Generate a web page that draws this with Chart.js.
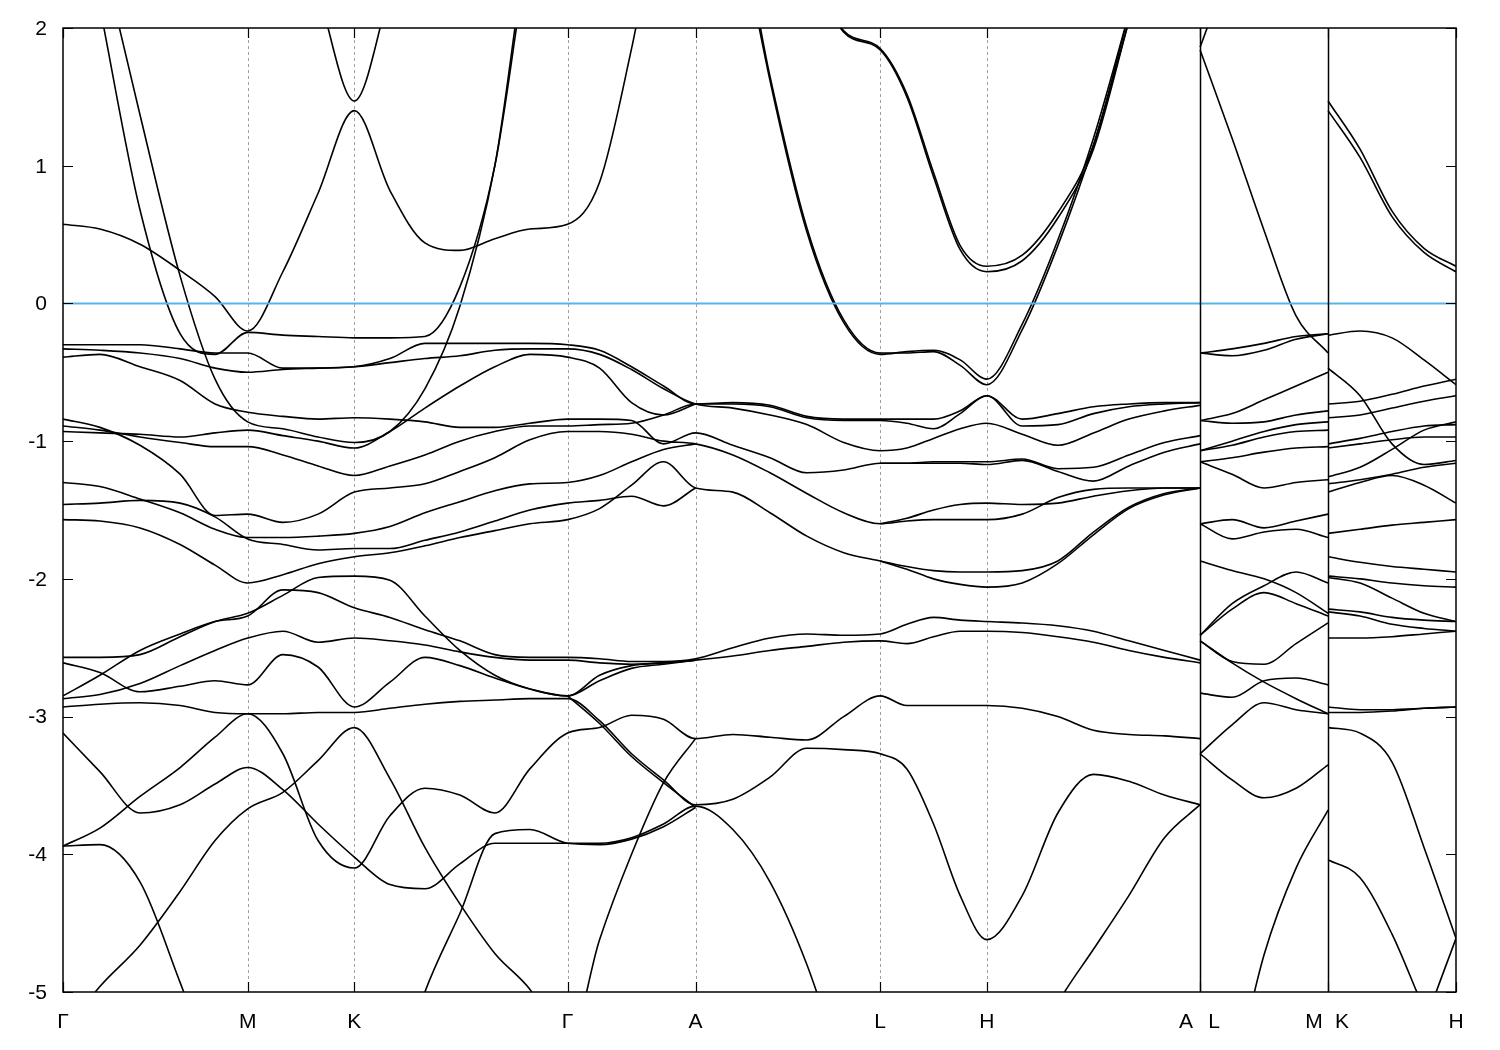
<!DOCTYPE html>
<html>
<head>
<meta charset="utf-8">
<title>Band structure</title>
<script src="https://cdn.jsdelivr.net/npm/chart.js@4.4.1/dist/chart.umd.min.js"></script>
<style>
  body { margin: 0; background: #fff; }
  canvas { display: block; }
</style>
</head>
<body>
<canvas id="bands" width="1500" height="1050"></canvas>
<script>
/**
 * Band structure along Γ-M-K-Γ-A-L-H-A | L-M | K-H
 * k in units of |ΓK|, energies in eV (E - EF)
 */

// high-symmetry points
const tickPos = [0, 0.866, 1.366, 2.366, 2.966, 3.832, 4.332, 5.332, 5.932, 6.532];
const tickLabels = ['Γ', 'M', 'K', 'Γ', 'A', 'L', 'H', ['A', 'L'], ['M', 'K'], 'H'];
const yTicks = [2, 1, 0, -1, -2, -3, -4, -5];

// k samples of the three path pieces
const kMain = [0, 0.173, 0.361, 0.549, 0.713, 0.866, 1.031, 1.196, 1.366, 1.533, 1.697, 1.861, 2.025, 2.189, 2.366,
    2.516, 2.666, 2.816, 2.966, 3.141, 3.315, 3.488, 3.661, 3.832, 3.957, 4.082, 4.207, 4.332,
    4.498, 4.665, 4.832, 4.998, 5.165, 5.332];
const kLM = [5.332, 5.482, 5.632, 5.782, 5.932];
const kKH = [5.932, 6.082, 6.232, 6.382, 6.532];

// --- Γ-M-K-Γ-A-L-H-A bands
const L1 = [0.575, 0.54, 0.43, 0.24, 0.05, -0.20, 0.23, 0.80, 1.40, 0.82, 0.44, 0.385, 0.47, 0.54, 0.575, 0.88, 1.85, 3.0, 3.5, 3.0, 1.65, 0.55, -0.12, -0.36, -0.36, -0.35, -0.45, -0.59, -0.19, 0.42, 1.15, 2.05, 3.0, 3.6];
const L1b = [3.0, 1.62, 0.52, -0.14, -0.37, -0.35, -0.34, -0.41, -0.55, -0.15, 0.46, 1.2, 2.1, 3.0, 3.6];
const L2a = [2.5, 1.98, 1.85, 1.52, 0.95, 0.42, 0.27, 0.35, 0.66, 1.15, 2.1, 3.0, 3.6];
const L2b = [2.5, 1.97, 1.84, 1.50, 0.92, 0.39, 0.23, 0.31, 0.62, 1.12, 2.05, 3.0, 3.6];
const KV = [3.0, 2.26, 1.47, 2.26, 3.0];
const S1 = [3.5, 2.15, 0.68, -0.22, -0.37, -0.21, -0.23, -0.24, -0.25, -0.25, -0.24, 0.12, 1.0, 2.6, 3.6];
const S2 = [3.7, 2.6, 1.37, 0.2, -0.55, -0.86, -0.91, -0.97, -1.01, -0.93, -0.62, -0.02, 1.0, 2.7, 3.6];
const G1 = [-0.30, -0.30, -0.30, -0.33, -0.36, -0.36, -0.47, -0.47, -0.46, -0.40, -0.29, -0.29, -0.29, -0.29, -0.30, -0.34, -0.46, -0.60, -0.73, -0.72, -0.74, -0.82, -0.84, -0.84, -0.84, -0.84, -0.78, -0.67, -0.84, -0.80, -0.75, -0.73, -0.72, -0.72];
const G2 = [-0.33, -0.34, -0.36, -0.40, -0.47, -0.50, -0.48, -0.47, -0.46, -0.43, -0.40, -0.38, -0.34, -0.33, -0.33, -0.37, -0.48, -0.62, -0.73, -0.76, -0.81, -0.88, -1.01, -1.07, -1.05, -0.98, -0.91, -0.87, -0.95, -1.03, -0.94, -0.84, -0.78, -0.74];
const G3 = [-0.39, -0.37, -0.46, -0.56, -0.73, -0.79, -0.82, -0.84, -0.83, -0.84, -0.86, -0.90, -0.90, -0.87, -0.84, -0.84, -0.85, -1.02, -0.94, -1.03, -1.12, -1.23, -1.21, -1.16, -1.16, -1.15, -1.15, -1.15, -1.13, -1.20, -1.19, -1.10, -1.01, -0.96];
const G8 = [-0.93, -0.94, -0.95, -0.97, -0.94, -0.92, -0.96, -1.00, -1.05, -0.93, -0.76, -0.60, -0.46, -0.37, -0.39, -0.47, -0.72, -0.81, -0.73];
const G12 = [-0.89, -0.92, -0.97, -1.01, -1.04, -1.04, -1.10, -1.18, -1.25, -1.18, -1.10, -1.00, -0.93, -0.89, -0.89, -0.88, -0.87, -0.81, -0.73, -0.73, -0.75, -0.83, -0.85, -0.85, -0.87, -0.91, -0.80, -0.67, -0.89, -0.88, -0.80, -0.75, -0.73, -0.72];
const G10 = [-0.84, -0.90, -1.03, -1.24, -1.54, -1.53, -1.59, -1.53, -1.37, -1.34, -1.31, -1.22, -1.12, -0.99, -0.93, -0.93, -0.95, -1.00, -1.02, -1.10, -1.23, -1.38, -1.52, -1.60, -1.58, -1.57, -1.57, -1.57, -1.53, -1.41, -1.35, -1.34, -1.34, -1.34];
const G17 = [-1.30, -1.33, -1.42, -1.52, -1.64, -1.70, -1.70, -1.69, -1.67, -1.62, -1.52, -1.44, -1.36, -1.31, -1.30, -1.25, -1.15, -1.06, -1.02];
const G18 = [-1.46, -1.45, -1.43, -1.45, -1.55, -1.71, -1.75, -1.79, -1.78, -1.78, -1.72, -1.66, -1.58, -1.50, -1.45, -1.43, -1.40, -1.47, -1.34];
const G13 = [-1.57, -1.58, -1.63, -1.75, -1.90, -2.03, -1.97, -1.89, -1.84, -1.81, -1.76, -1.70, -1.65, -1.60, -1.57, -1.49, -1.32, -1.15, -1.34, -1.37, -1.52, -1.69, -1.81, -1.87, -1.91, -1.94, -1.95, -1.95, -1.94, -1.87, -1.66, -1.48, -1.38, -1.34];
const G14 = [-1.16, -1.16, -1.16, -1.16, -1.17, -1.14, -1.22, -1.29, -1.18, -1.08, -1.02];
const G15 = [-1.60, -1.56, -1.50, -1.46, -1.45, -1.46, -1.45, -1.40, -1.36, -1.34, -1.34];
const G16 = [-1.87, -1.93, -2.00, -2.04, -2.06, -2.03, -1.89, -1.68, -1.49, -1.39, -1.34];
const G20 = [-2.57, -2.57, -2.55, -2.42, -2.31, -2.25, -2.12, -1.99, -1.98, -2.01, -2.27, -2.52, -2.70, -2.80, -2.85, -2.74, -2.65, -2.62, -2.59];
const G21 = [-2.61, -2.68, -2.82, -2.78, -2.74, -2.77, -2.55, -2.64, -2.93, -2.75, -2.57, -2.63, -2.72, -2.80, -2.85, -2.70, -2.63, -2.61, -2.59];
const G22 = [-2.85, -2.70, -2.52, -2.40, -2.31, -2.27, -2.08, -2.10, -2.21, -2.28, -2.37, -2.45, -2.55, -2.57, -2.57, -2.58, -2.60, -2.60, -2.58, -2.50, -2.43, -2.40, -2.41, -2.40, -2.33, -2.28, -2.30, -2.31, -2.32, -2.34, -2.38, -2.45, -2.52, -2.59];
const G23 = [-2.87, -2.84, -2.76, -2.63, -2.52, -2.43, -2.38, -2.46, -2.43, -2.45, -2.48, -2.53, -2.57, -2.59, -2.59, -2.61, -2.62, -2.61, -2.59, -2.56, -2.52, -2.49, -2.46, -2.45, -2.47, -2.42, -2.38, -2.38, -2.39, -2.42, -2.46, -2.52, -2.57, -2.61];
const G24 = [-2.93, -2.91, -2.90, -2.92, -2.97, -2.98, -2.98, -2.97, -2.97, -2.94, -2.91, -2.89, -2.88, -2.87, -2.87, -3.03, -3.27, -3.46, -3.64, -3.60, -3.44, -3.23, -3.24, -3.27, -3.38, -3.78, -4.30, -4.62, -4.30, -3.70, -3.42, -3.47, -3.57, -3.64];
const G24b = [-2.85, -3.05, -3.29, -3.48, -3.66];
const B1 = [-3.12, -3.40, -3.70, -3.64, -3.49, -3.37, -3.53, -3.78, -4.02, -4.22, -4.25, -4.07, -3.92, -3.92, -3.92, -3.92, -3.88, -3.78, -3.65, -3.82, -4.20, -4.80, -5.6, null, null, null, null, null, -5.6, -5.08, -4.69, -4.30, -3.88, -3.64];
const B2 = [-3.94, -3.81, -3.58, -3.37, -3.15, -2.98, -3.27, -3.90, -4.10, -3.72, -3.52, -3.57, -3.70, -3.38, -3.12, -3.08, -2.99, -3.02, -3.16, -3.13, -3.15, -3.17, -3.00, -2.85, -2.92, -2.92, -2.92, -2.92, -2.94, -3.00, -3.10, -3.13, -3.14, -3.16];
const B3 = [-5.3, -4.96, -4.66, -4.27, -3.90, -3.67, -3.55, -3.32, -3.08, -3.45, -3.95, -4.36, -4.72, -4.98, -5.4, -4.62, -4.0, -3.48, -3.16];
const B4 = [-3.94, -3.93, -4.20, -4.93, -5.6];
const B6 = [-5.8, -5.0, -4.43, -3.85, -3.82, -3.92, -3.93, -3.89, -3.80, -3.66];

// --- L-M bands
const UL1 = [1.86, 2.5, 3.2];
const UL2 = [1.84, 1.20, 0.53, -0.09, -0.36];
const P1 = [-0.36, -0.33, -0.29, -0.24, -0.22];
const P2 = [-0.36, -0.38, -0.34, -0.26, -0.22];
const P3 = [-0.85, -0.80, -0.70, -0.60, -0.50];
const P4 = [-0.85, -0.87, -0.86, -0.81, -0.78];
const P5 = [-1.07, -1.00, -0.93, -0.88, -0.86];
const P6 = [-1.07, -1.03, -0.97, -0.93, -0.92];
const P7 = [-1.15, -1.12, -1.08, -1.05, -1.04];
const P8 = [-1.15, -1.24, -1.34, -1.30, -1.28];
const P9 = [-1.60, -1.57, -1.63, -1.58, -1.53];
const P10 = [-1.60, -1.71, -1.66, -1.64, -1.70];
const P11 = [-1.87, -1.94, -2.00, -2.10, -2.25];
const P13 = [-2.41, -2.22, -2.10, -2.18, -2.27];
const P14 = [-2.41, -2.18, -2.05, -1.95, -2.03];
const P15 = [-2.45, -2.60, -2.62, -2.47, -2.32];
const P16 = [-2.45, -2.61, -2.75, -2.87, -2.98];
const P17 = [-2.83, -2.86, -2.74, -2.72, -2.77];
const P18 = [-3.27, -3.06, -2.90, -2.95, -2.98];
const P19 = [-3.27, -3.46, -3.59, -3.52, -3.35];
const P20 = [-5.7, -4.73, -4.10, -3.68];

// --- K-H bands
const UK1 = [1.47, 1.12, 0.67, 0.40, 0.27];
const UK2 = [1.40, 1.06, 0.63, 0.37, 0.23];
const Q1 = [-0.23, -0.20, -0.25, -0.41, -0.59];
const Q2 = [-0.47, -0.67, -1.02, -1.17, -1.14];
const Q3 = [-0.73, -0.71, -0.66, -0.60, -0.55];
const Q4 = [-0.83, -0.81, -0.76, -0.71, -0.67];
const Q5 = [-1.02, -0.98, -0.93, -0.89, -0.88];
const Q6 = [-1.05, -1.02, -0.99, -0.97, -0.97];
const Q7 = [-1.26, -1.19, -1.06, -0.92, -0.86];
const Q8 = [-1.31, -1.28, -1.24, -1.19, -1.16];
const Q9 = [-1.37, -1.30, -1.25, -1.32, -1.45];
const Q10 = [-1.67, -1.64, -1.61, -1.59, -1.57];
const Q11 = [-1.84, -1.88, -1.91, -1.93, -1.95];
const Q12 = [-1.99, -2.03, -2.14, -2.25, -2.31];
const Q13 = [-1.98, -2.00, -2.03, -2.05, -2.06];
const Q14 = [-2.22, -2.24, -2.28, -2.30, -2.31];
const Q15 = [-2.24, -2.27, -2.33, -2.36, -2.38];
const Q16 = [-2.43, -2.43, -2.42, -2.40, -2.38];
const Q17 = [-2.93, -2.95, -2.95, -2.94, -2.93];
const Q18 = [-2.97, -2.97, -2.96, -2.94, -2.93];
const Q19 = [-3.08, -3.12, -3.33, -3.95, -4.61];
const Q20 = [-4.04, -4.17, -4.58, -5.12, -5.6];
const Q21 = [-6.0, -5.25, -4.61];

// [values, first k index]
const mainBands = [
    [L1, 0], [L1b, 19], [L2a, 21], [L2b, 21], [KV, 6], [S1, 0], [S2, 0],
    [G1, 0], [G2, 0], [G3, 0], [G8, 0], [G12, 0], [G10, 0], [G17, 0], [G18, 0], [G13, 0],
    [G14, 23], [G15, 23], [G16, 23], [G20, 0], [G21, 0], [G22, 0], [G23, 0], [G24, 0], [G24b, 14],
    [B1, 0], [B2, 0], [B3, 0], [B4, 0], [B6, 9]
];
const lmBands = [[UL1, 0], [UL2, 0], [P1, 0], [P2, 0], [P3, 0], [P4, 0], [P5, 0], [P6, 0], [P7, 0], [P8, 0],
    [P9, 0], [P10, 0], [P11, 0], [P13, 0], [P14, 0], [P15, 0], [P16, 0], [P17, 0], [P18, 0], [P19, 0], [P20, 1]];
const khBands = [[UK1, 0], [UK2, 0], [Q1, 0], [Q2, 0], [Q3, 0], [Q4, 0], [Q5, 0], [Q6, 0], [Q7, 0], [Q8, 0],
    [Q9, 0], [Q10, 0], [Q11, 0], [Q12, 0], [Q13, 0], [Q14, 0], [Q15, 0], [Q16, 0], [Q17, 0], [Q18, 0],
    [Q19, 0], [Q20, 0], [Q21, 2]];

const FONT = '"Liberation Sans", Arial, sans-serif';

function bandDataset(kGrid, [values, start]) {
    return {
        data: values.map((e, i) => ({ x: kGrid[start + i], y: e })),
        borderColor: '#000',
        borderWidth: 1.6,
        pointRadius: 0,
        fill: false,
        cubicInterpolationMode: 'monotone',
        clip: 0
    };
}

const datasets = [
    // Fermi level (drawn last = on top)
    {
        data: [{ x: tickPos[0], y: 0 }, { x: tickPos[tickPos.length - 1], y: 0 }],
        borderColor: '#56b4e9', borderWidth: 2, pointRadius: 0, fill: false, clip: 0
    },
    ...mainBands.map(b => bandDataset(kMain, b)),
    ...lmBands.map(b => bandDataset(kLM, b)),
    ...khBands.map(b => bandDataset(kKH, b))
];

// Frame, ticks, grid and labels in gnuplot style
const framePlugin = {
    id: 'bandFrame',
    beforeDatasetsDraw(chart) {
        const { ctx, chartArea: a, scales: { x } } = chart;
        ctx.save();
        ctx.strokeStyle = '#a0a0a0';
        ctx.lineWidth = 1;
        ctx.setLineDash([3, 3]);
        tickPos.slice(1, -1).forEach(k => {
            const px = Math.round(x.getPixelForValue(k)) + 0.5;
            ctx.beginPath(); ctx.moveTo(px, a.top); ctx.lineTo(px, a.bottom); ctx.stroke();
        });
        ctx.restore();
    },
    afterDraw(chart) {
        const { ctx, chartArea: a, scales: { x, y } } = chart;
        ctx.save();
        ctx.strokeStyle = '#000';
        ctx.lineWidth = 1.5;

        // path breaks A|L and M|K
        [tickPos[7], tickPos[8]].forEach(k => {
            const px = Math.round(x.getPixelForValue(k)) + 0.5;
            ctx.beginPath(); ctx.moveTo(px, a.top); ctx.lineTo(px, a.bottom); ctx.stroke();
        });

        ctx.strokeRect(a.left, a.top, a.right - a.left, a.bottom - a.top);

        // inward ticks
        ctx.lineWidth = 1.2;
        yTicks.forEach(v => {
            const py = Math.round(y.getPixelForValue(v)) + 0.5;
            ctx.beginPath();
            ctx.moveTo(a.left, py); ctx.lineTo(a.left + 10, py);
            ctx.moveTo(a.right, py); ctx.lineTo(a.right - 10, py);
            ctx.stroke();
        });
        tickPos.forEach(k => {
            const px = Math.round(x.getPixelForValue(k)) + 0.5;
            ctx.beginPath();
            ctx.moveTo(px, a.bottom); ctx.lineTo(px, a.bottom - 10);
            ctx.moveTo(px, a.top); ctx.lineTo(px, a.top + 10);
            ctx.stroke();
        });

        // labels
        ctx.fillStyle = '#000';
        ctx.font = `21px ${FONT}`;
        ctx.textAlign = 'right';
        ctx.textBaseline = 'middle';
        yTicks.forEach(v => ctx.fillText(String(v), a.left - 16, y.getPixelForValue(v) + 1));

        ctx.textAlign = 'center';
        ctx.textBaseline = 'alphabetic';
        tickLabels.forEach((lab, i) => {
            const px = x.getPixelForValue(tickPos[i]);
            if (Array.isArray(lab)) {
                ctx.fillText(lab[0], px - 14, a.bottom + 36);
                ctx.fillText(lab[1], px + 14, a.bottom + 36);
            } else {
                ctx.fillText(lab, px, a.bottom + 36);
            }
        });
        ctx.restore();
    }
};

new Chart(document.getElementById('bands'), {
    type: 'line',
    data: { datasets },
    options: {
        responsive: false,
        animation: false,
        events: [],
        layout: { padding: { left: 63, right: 44, top: 28, bottom: 58 } },
        plugins: { legend: { display: false }, tooltip: { enabled: false } },
        scales: {
            x: { type: 'linear', min: 0, max: tickPos[tickPos.length - 1], display: false },
            y: { type: 'linear', min: -5, max: 2, display: false }
        }
    },
    plugins: [framePlugin]
});
</script>
</body>
</html>
